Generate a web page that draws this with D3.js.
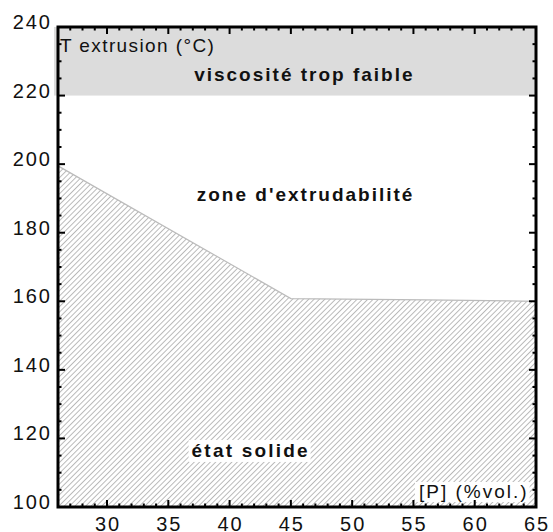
<!DOCTYPE html>
<html>
<head>
<meta charset="utf-8">
<script src="https://cdn.jsdelivr.net/npm/d3@7"></script>
<style>
  html, body { margin: 0; padding: 0; background: #fff; }
  svg { display: block; font-family: Arial, "Liberation Sans", sans-serif; }
</style>
</head>
<body>
<svg id="chart" width="553" height="532"></svg>
<script>
// Axis extents and tick values
const xDomain = [26, 65];
const yDomain = [100, 240];
const xTickLabels = [30, 35, 40, 45, 50, 55, 60, 65];
const yTickLabels = [100, 120, 140, 160, 180, 200, 220, 240];

// Lower boundary of the extrusion window: P (%vol.) vs T (°C)
const boundaryP = [26, 45, 56, 65];
const boundaryT = [199.5, 160.8, 160.4, 160];

// Upper limit (viscosity too low above this temperature)
const viscosityBand = [220, 240];

// Region labels
const regionLabels = [
  { text: "viscosité trop faible", p: 46.1, t: 224.3 },
  { text: "zone d'extrudabilité", p: 46.2, t: 189.2 }
];
const solidLabel = { text: "état solide", p: 36.9, t: 114.6 };

const svg = d3.select("#chart");
const W = 553, H = 532;
const margin = { left: 58, right: 17, top: 27, bottom: 25 };

const x = d3.scaleLinear().domain(xDomain).range([margin.left, W - margin.right]);
const y = d3.scaleLinear().domain(yDomain).range([H - margin.bottom, margin.top]);

// Hatch pattern for the solid-state region
const defs = svg.append("defs");
defs.append("pattern")
  .attr("id", "hatch")
  .attr("patternUnits", "userSpaceOnUse")
  .attr("width", 3.8).attr("height", 3.8)
  .attr("patternTransform", "rotate(45)")
  .append("line")
  .attr("x1", 0.5).attr("y1", 0).attr("x2", 0.5).attr("y2", 3.8)
  .attr("stroke", "#a8a8a8").attr("stroke-width", 0.8);

// Grey band: viscosity too low
svg.append("rect")
  .attr("x", x(xDomain[0]) - 4)
  .attr("y", y(viscosityBand[1]))
  .attr("width", x(xDomain[1]) - x(xDomain[0]) + 4)
  .attr("height", y(viscosityBand[0]) - y(viscosityBand[1]))
  .attr("fill", "#dcdcdc");

// Hatched solid region under the boundary
const pts = boundaryP.map((p, i) => [p, boundaryT[i]]);
const area = d3.area()
  .x(d => x(d[0]))
  .y0(y(yDomain[0]))
  .y1(d => y(d[1]));
svg.append("path")
  .datum(pts)
  .attr("d", area)
  .attr("fill", "url(#hatch)");

svg.append("path")
  .datum(pts)
  .attr("d", d3.line().x(d => x(d[0])).y(d => y(d[1])))
  .attr("fill", "none")
  .attr("stroke", "#bbbbbb")
  .attr("stroke-width", 1.2);

// Axis title inside the plot
svg.append("text")
  .attr("x", x(xDomain[0]) + 2)
  .attr("y", 52)
  .attr("font-size", 19)
  .attr("letter-spacing", 1.4)
  .attr("fill", "#111")
  .text("T extrusion (°C)");

// Region labels
regionLabels.forEach(l => {
  svg.append("text")
    .attr("x", x(l.p))
    .attr("y", y(l.t))
    .attr("text-anchor", "middle")
    .attr("font-size", 19)
    .attr("font-weight", "bold")
    .attr("letter-spacing", 2)
    .attr("fill", "#111")
    .text(l.text);
});

function boxedText(tx, ty, str, size, weight, spacing, padL, padR, padTop, padBottom) {
  const g = svg.append("g");
  const bg = g.append("rect").attr("fill", "#fff");
  const t = g.append("text")
    .attr("x", tx).attr("y", ty)
    .attr("font-size", size)
    .attr("font-weight", weight)
    .attr("letter-spacing", spacing)
    .attr("fill", "#111")
    .text(str);
  const b = t.node().getBBox();
  bg.attr("x", b.x - padL).attr("y", b.y - padTop)
    .attr("width", b.width + padL + padR - spacing)
    .attr("height", b.height + padTop + padBottom);
}

boxedText(x(solidLabel.p), y(solidLabel.t), solidLabel.text, 19, "bold", 2.2, 3, 3, 0, 1);
boxedText(419, 498, "[P] (%vol.)", 19, "normal", 2, 4, 3, -1, 0);

// Frame and ticks
const frame = svg.append("g");
const xMinor = d3.range(27, 66, 1);
const yMinor = d3.range(105, 240, 5);
const xMajor = xTickLabels;
const yMajor = yTickLabels;
const majorLen = 7, minorLen = 3.5;

// bottom and top ticks
[[y(yDomain[0]), -1], [y(yDomain[1]), 1]].forEach(([yy, dir]) => {
  frame.selectAll(null).data(xMinor).enter().append("line")
    .attr("x1", d => x(d)).attr("x2", d => x(d))
    .attr("y1", yy).attr("y2", d => yy + dir * (xMajor.includes(d) ? majorLen : minorLen))
    .attr("stroke", "#000").attr("stroke-width", 2);
});
// left and right ticks
[[x(xDomain[0]), 1], [x(xDomain[1]), -1]].forEach(([xx, dir]) => {
  frame.selectAll(null).data(yMinor).enter().append("line")
    .attr("y1", d => y(d)).attr("y2", d => y(d))
    .attr("x1", xx).attr("x2", d => xx + dir * (yMajor.includes(d) ? majorLen : minorLen))
    .attr("stroke", "#000").attr("stroke-width", 2);
});

frame.append("rect")
  .attr("x", x(xDomain[0])).attr("y", y(yDomain[1]))
  .attr("width", x(xDomain[1]) - x(xDomain[0]))
  .attr("height", y(yDomain[0]) - y(yDomain[1]))
  .attr("fill", "none").attr("stroke", "#000").attr("stroke-width", 3);

// Tick labels
svg.selectAll(".ylab").data(yTickLabels).enter().append("text")
  .attr("class", "ylab")
  .attr("x", 52)
  .attr("y", d => y(d) + 2)
  .attr("text-anchor", "end")
  .attr("font-size", 20)
  .attr("letter-spacing", 2)
  .attr("fill", "#111")
  .text(d => d);

svg.selectAll(".xlab").data(xTickLabels).enter().append("text")
  .attr("class", "xlab")
  .attr("x", d => x(d) + 1)
  .attr("y", 531)
  .attr("text-anchor", "middle")
  .attr("font-size", 20)
  .attr("letter-spacing", 2)
  .attr("fill", "#111")
  .text(d => d);
</script>
</body>
</html>
